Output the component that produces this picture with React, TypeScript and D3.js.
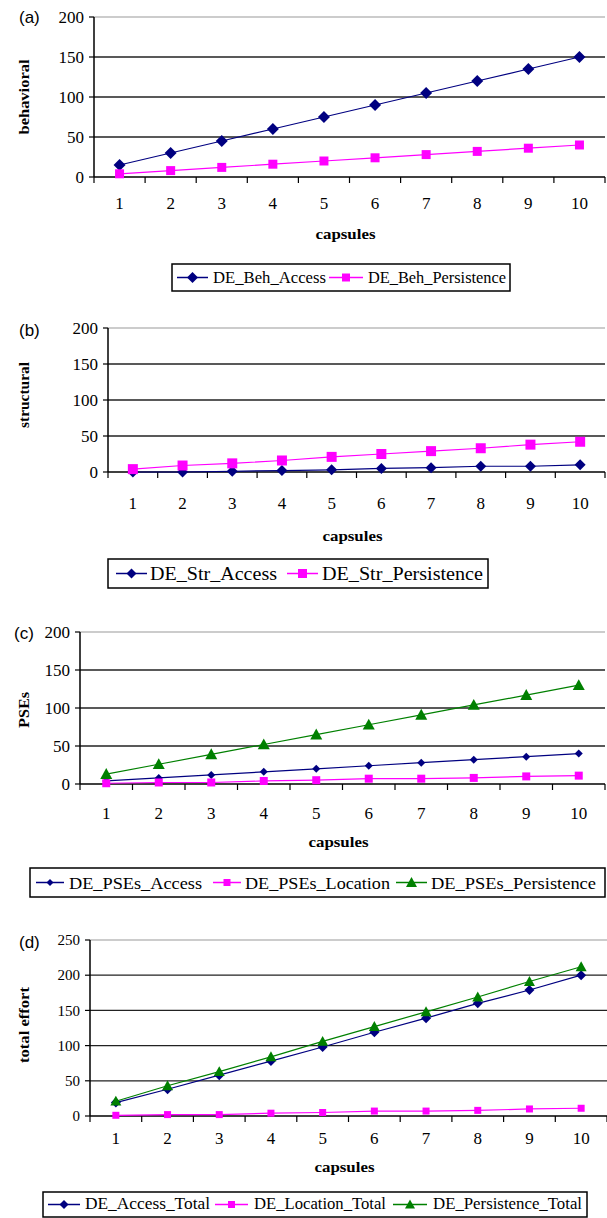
import React from 'react';
import * as d3 from 'd3';

// x categories
const capsules = [1, 2, 3, 4, 5, 6, 7, 8, 9, 10];

// (a) behavioral
const behAccess = [15, 30, 45, 60, 75, 90, 105, 120, 135, 150];
const behPersistence = [4, 8, 12, 16, 20, 24, 28, 32, 36, 40];

// (b) structural
const strAccess = [0, 0, 1, 2, 3, 5, 6, 8, 8, 10];
const strPersistence = [4, 9, 12, 16, 21, 25, 29, 33, 38, 42];

// (c) PSEs
const pseAccess = [4, 8, 12, 16, 20, 24, 28, 32, 36, 40];
const pseLocation = [1, 2, 2, 4, 5, 7, 7, 8, 10, 11];
const psePersistence = [13, 26, 39, 52, 65, 78, 91, 104, 117, 130];

// (d) total effort
const totalAccess = [19, 38, 58, 78, 98, 119, 139, 160, 179, 200];
const totalLocation = [1, 2, 2, 4, 5, 7, 7, 8, 10, 11];
const totalPersistence = [21, 43, 63, 84, 106, 127, 148, 169, 191, 212];

const ticks200 = [0, 50, 100, 150, 200];
const ticks250 = [0, 50, 100, 150, 200, 250];

const NAVY = '#000080';
const PINK = '#ff00ff';
const GREEN = '#008000';
const SERIF = "'Liberation Serif', 'Times New Roman', serif";
const SANS = "'Liberation Sans', Arial, sans-serif";

type Marker = 'diamond' | 'square' | 'triangle';

function markerPath(m: Marker, r: number) {
  if (m === 'diamond') return `M0,${-r}L${r},0L0,${r}L${-r},0Z`;
  if (m === 'square') return `M${-r},${-r}H${r}V${r}H${-r}Z`;
  return `M0,${-r}L${r},${r * 0.8}L${-r},${r * 0.8}Z`;
}

const panels = [
  {
    tag: '(a)', title: 'behavioral', ticks: ticks200,
    x0: 94, x1: 605, yTop: 17, yBot: 177, tagX: 19, tagY: 23, titleY: 97, titleLen: 75,
    tickFont: 17, xLabY: 209, capY: 239,
    series: [
      { name: 'DE_Beh_Access', values: behAccess, color: NAVY, marker: 'diamond', r: 6 },
      { name: 'DE_Beh_Persistence', values: behPersistence, color: PINK, marker: 'square', r: 4.5 },
    ],
    legend: { x: 172, y: 264, w: 338, h: 27, font: 17, base: 283,
      items: [{ lx: 177, lw: 31, tx: 213, tw: 113 }, { lx: 329, lw: 34, tx: 368, tw: 138 }] },
  },
  {
    tag: '(b)', title: 'structural', ticks: ticks200,
    x0: 108, x1: 605, yTop: 328, yBot: 472, tagX: 19, tagY: 336, titleY: 395, titleLen: 66,
    tickFont: 17, xLabY: 509, capY: 541,
    series: [
      { name: 'DE_Str_Access', values: strAccess, color: NAVY, marker: 'diamond', r: 5.5 },
      { name: 'DE_Str_Persistence', values: strPersistence, color: PINK, marker: 'square', r: 5 },
    ],
    legend: { x: 108, y: 559, w: 380, h: 29, font: 18, base: 580,
      items: [{ lx: 116, lw: 31, tx: 150, tw: 127 }, { lx: 287, lw: 31, tx: 322, tw: 161 }] },
  },
  {
    tag: '(c)', title: 'PSEs', ticks: ticks200,
    x0: 80, x1: 605, yTop: 632, yBot: 784, tagX: 14, tagY: 639, titleY: 710, titleLen: 36,
    tickFont: 17, xLabY: 819, capY: 847,
    series: [
      { name: 'DE_PSEs_Access', values: pseAccess, color: NAVY, marker: 'diamond', r: 4 },
      { name: 'DE_PSEs_Location', values: pseLocation, color: PINK, marker: 'square', r: 4 },
      { name: 'DE_PSEs_Persistence', values: psePersistence, color: GREEN, marker: 'triangle', r: 6 },
    ],
    legend: { x: 30, y: 868, w: 575, h: 29, font: 17, base: 889,
      items: [{ lx: 36, lw: 28, tx: 69, tw: 133 }, { lx: 213, lw: 28, tx: 245, tw: 145 }, { lx: 396, lw: 31, tx: 431, tw: 165 }] },
  },
  {
    tag: '(d)', title: 'total effort', ticks: ticks250,
    x0: 90, x1: 607, yTop: 940, yBot: 1116, tagX: 19, tagY: 948, titleY: 1025, titleLen: 76,
    tickFont: 15, xLabY: 1144, capY: 1172,
    series: [
      { name: 'DE_Access_Total', values: totalAccess, color: NAVY, marker: 'diamond', r: 5 },
      { name: 'DE_Location_Total', values: totalLocation, color: PINK, marker: 'square', r: 3.5 },
      { name: 'DE_Persistence_Total', values: totalPersistence, color: GREEN, marker: 'triangle', r: 5.5 },
    ],
    legend: { x: 43, y: 1192, w: 544, h: 25, font: 16, base: 1209,
      items: [{ lx: 48, lw: 32, tx: 85, tw: 125 }, { lx: 215, lw: 33, tx: 254, tw: 132 }, { lx: 393, lw: 34, tx: 433, tw: 149 }] },
  },
];

function Panel({ p }: { p: any }) {
  const x = d3.scaleBand<number>().domain(capsules).range([p.x0, p.x1]);
  const y = d3.scaleLinear().domain([0, p.ticks[p.ticks.length - 1]]).range([p.yBot, p.yTop]);
  const cx = (c: number) => (x(c) as number) + x.bandwidth() / 2;
  const bounds = [...capsules.map((c) => x(c) as number), p.x1];
  const line = d3.line<number>().x((_, i) => cx(capsules[i])).y((v) => y(v));
  const maxT = p.ticks[p.ticks.length - 1];

  return (
    <g>
      <text x={p.tagX} y={p.tagY} fontFamily={SANS} fontSize={17}>{p.tag}</text>
      {/* gridlines */}
      {p.ticks.filter((t: number) => t > 0).map((t: number) => (
        <line key={t} x1={p.x0} x2={p.x1} y1={y(t)} y2={y(t)}
          stroke={t === maxT ? '#999' : '#222'} strokeWidth={t === maxT ? 1 : 1.3} />
      ))}
      {/* y axis */}
      <line x1={p.x0} x2={p.x0} y1={p.yTop} y2={p.yBot} stroke="#000" strokeWidth={1.5} />
      {p.ticks.map((t: number) => (
        <g key={t}>
          <line x1={p.x0 - 5} x2={p.x0} y1={y(t)} y2={y(t)} stroke="#000" strokeWidth={1.2} />
          <text x={p.x0 - 10} y={y(t)} dy="0.35em" textAnchor="end" fontFamily={SERIF} fontSize={p.tickFont}>{t}</text>
        </g>
      ))}
      {/* x axis */}
      <line x1={p.x0} x2={p.x1} y1={p.yBot} y2={p.yBot} stroke="#000" strokeWidth={1.5} />
      {bounds.map((b: number, i: number) => (
        <line key={i} x1={b} x2={b} y1={p.yBot} y2={p.yBot + 6} stroke="#000" strokeWidth={1.2} />
      ))}
      {capsules.map((c) => (
        <text key={c} x={cx(c)} y={p.xLabY} textAnchor="middle" fontFamily={SERIF} fontSize={17}>{c}</text>
      ))}
      <text x={(p.x0 + p.x1) / 2 - 4} y={p.capY} textAnchor="middle" fontFamily={SERIF} fontWeight="bold"
        fontSize={15} textLength={60} lengthAdjust="spacingAndGlyphs">capsules</text>
      <text transform={`translate(29,${p.titleY}) rotate(-90)`} textAnchor="middle" fontFamily={SERIF}
        fontWeight="bold" fontSize={15} textLength={p.titleLen} lengthAdjust="spacingAndGlyphs">{p.title}</text>
      {/* series */}
      {p.series.map((s: any) => (
        <g key={s.name}>
          <path d={line(s.values) as string} fill="none" stroke={s.color} strokeWidth={1.2} />
          {s.values.map((v: number, i: number) => (
            <path key={i} d={markerPath(s.marker, s.r)} fill={s.color}
              transform={`translate(${cx(capsules[i])},${y(v)})`} />
          ))}
        </g>
      ))}
      {/* legend */}
      <rect x={p.legend.x} y={p.legend.y} width={p.legend.w} height={p.legend.h} fill="#fff" stroke="#000" strokeWidth={1.5} />
      {p.series.map((s: any, i: number) => {
        const it = p.legend.items[i];
        const my = p.legend.y + p.legend.h / 2;
        return (
          <g key={s.name}>
            <line x1={it.lx} x2={it.lx + it.lw} y1={my} y2={my} stroke={s.color} strokeWidth={1.5} />
            <path d={markerPath(s.marker, Math.max(s.r - 0.5, 3.5))} fill={s.color}
              transform={`translate(${it.lx + it.lw / 2},${my})`} />
            <text x={it.tx} y={p.legend.base} fontFamily={SERIF} fontSize={p.legend.font}
              textLength={it.tw} lengthAdjust="spacingAndGlyphs">{s.name}</text>
          </g>
        );
      })}
    </g>
  );
}

export default function App() {
  return (
    <div style={{ position: 'absolute', left: 0, top: 0 }}>
      <svg width={607} height={1218} style={{ display: 'block', background: '#fff' }}>
        {panels.map((p) => <Panel key={p.tag} p={p} />)}
      </svg>
    </div>
  );
}
